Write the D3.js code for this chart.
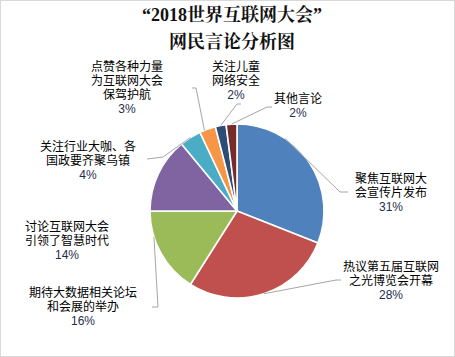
<!DOCTYPE html>
<html><head><meta charset="utf-8">
<script src="https://cdn.jsdelivr.net/npm/d3@7"></script>
<style>body{margin:0;background:#fff}svg{display:block}</style>
</head><body>
<script>
const categories = ["聚焦互联网大会宣传片发布","热议第五届互联网之光博览会开幕","期待大数据相关论坛和会展的举办","讨论互联网大会引领了智慧时代","关注行业大咖、各国政要齐聚乌镇","点赞各种力量为互联网大会保驾护航","关注儿童网络安全","其他言论"];
const labelLines = [["聚焦互联网大","会宣传片发布"],["热议第五届互联网","之光博览会开幕"],["期待大数据相关论坛","和会展的举办"],["讨论互联网大会","引领了智慧时代"],["关注行业大咖、各","国政要齐聚乌镇"],["点赞各种力量","为互联网大会","保驾护航"],["关注儿童","网络安全"],["其他言论"]];
const values = [31,28,16,14,4,3,2,2];
const colors = ["#4F81BD","#C0504D","#9BBB59","#8064A2","#4BACC6","#F79646","#2C4D75","#772C2A"];
const titleLines = ["“2018世界互联网大会”","网民言论分析图"];

// layout (label anchor centres, leader elbow points)
const labelPos = [[391,179],[391,267],[83,293],[67,227],[88,147],[127,67],[236,67],[298,99]];
const elbows = [[[340,192],[348,192]],[[336,280],[341,280]],[[158,307],[152,307]],null,[[163,157],[147,159]],[[196,88],[192,88]],[[237,104],[241,104]],[[267,107],[272,107]]];
const leaderAngleFrac = [0.3,0.5,0.7,null,0.5,0.3,0.5,0.5];

const W=455,H=357, cx=237, cy=211, R=87, LH=14;
const svg=d3.select("body").append("svg").attr("width",W).attr("height",H);
svg.append("rect").attr("x",0.5).attr("y",0.5).attr("width",W-1).attr("height",H-1).attr("fill","#fff").attr("stroke","#d9d9d9");

const title=svg.append("text").attr("text-anchor","middle")
  .attr("font-family","'Liberation Serif','Noto Serif CJK SC','Noto Sans CJK SC',serif").attr("font-weight","bold").attr("font-size",18).attr("fill","#111");
title.selectAll("tspan").data(titleLines).join("tspan").attr("x",232).attr("y",(d,i)=>21+i*27).text(d=>d);

const pie=d3.pie().sort(null).value(d=>d);
const arcs=pie(values);
const arc=d3.arc().innerRadius(0).outerRadius(R);
const g=svg.append("g").attr("transform",`translate(${cx},${cy})`);
g.selectAll("path").data(arcs).join("path").attr("d",arc).attr("fill",(d,i)=>colors[i]).attr("stroke","#fff").attr("stroke-width",1.6);

// leader lines
const lg=svg.append("g").attr("fill","none").attr("stroke","#a6a6a6").attr("stroke-width",1);
arcs.forEach((a,i)=>{
  if(!elbows[i]) return;
  const ang=a.startAngle+(a.endAngle-a.startAngle)*leaderAngleFrac[i];
  const p0=[cx+R*Math.sin(ang), cy-R*Math.cos(ang)];
  lg.append("polyline").attr("points",[p0,...elbows[i]].map(p=>p.join(",")).join(" "));
});

// labels (one text element per label, lines as tspans)
const tg=svg.append("g").attr("font-family","'Liberation Sans','Noto Sans CJK SC',sans-serif").attr("font-size",12).attr("text-anchor","middle");
arcs.forEach((a,i)=>{
  const [x,y]=labelPos[i];
  const lines=labelLines[i];
  const t=tg.append("text").attr("fill","#000");
  lines.forEach((s,k)=>{
    t.append("tspan").attr("x",x).attr("y",y+4+k*LH).text(s);
  });
  t.append("tspan").attr("x",x).attr("y",y+4+lines.length*LH).attr("fill","#1f2d4d").text(Math.round(a.value)+"%");
});
</script>
</body></html>
